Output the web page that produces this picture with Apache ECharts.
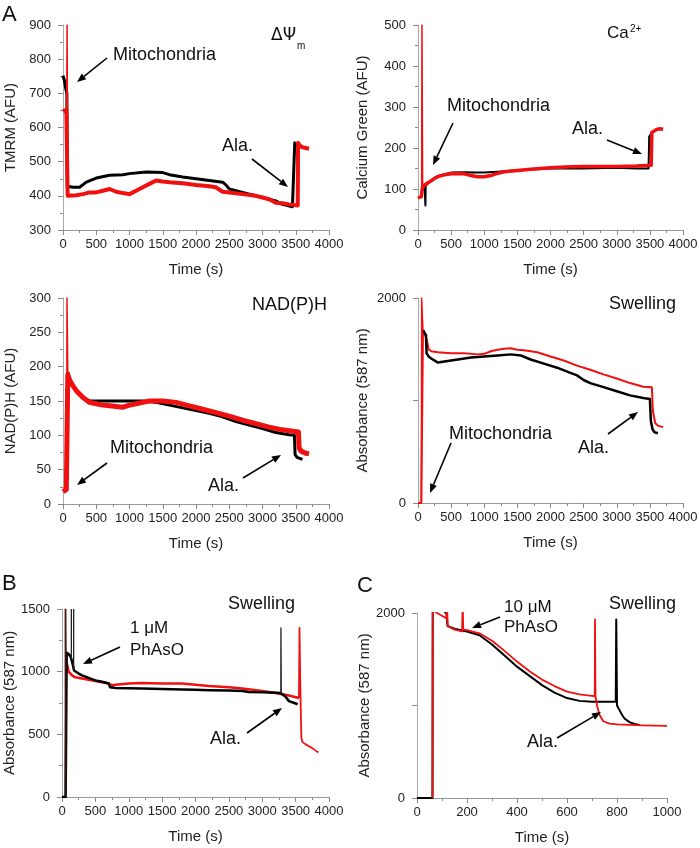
<!DOCTYPE html>
<html><head><meta charset="utf-8">
<script src="https://cdn.jsdelivr.net/npm/echarts@6/dist/echarts.min.js"></script>
<style>html,body{margin:0;padding:0;background:#fff}#c{width:700px;height:848px}</style>
</head><body><div id="c"></div>
<script>
// ---------- Panel A1: TMRM ----------
const tmrmBlackT = [0, 20, 40, 58, 64, 150, 250, 350, 500, 700, 900, 1000, 1250, 1500, 1600, 1800, 2000, 2200, 2400, 2450, 2500, 2700, 3000, 3200, 3300, 3450, 3480, 3485, 3510, 3540];
const tmrmBlackV = [752, 738, 715, 700, 428, 425, 425, 440, 452, 460, 462, 465, 470, 468, 462, 455, 450, 445, 440, 432, 420, 410, 395, 385, 375, 368, 365, 555, 548, 545];
const tmrmRedT = [0, 50, 70, 200, 300, 400, 500, 600, 700, 800, 900, 1000, 1100, 1200, 1300, 1400, 1500, 1600, 1800, 2000, 2200, 2300, 2400, 2500, 2700, 2900, 3000, 3100, 3200, 3300, 3400, 3530, 3535, 3560, 3600, 3650, 3700];
const tmrmRedV = [648, 652, 400, 402, 405, 410, 410, 415, 420, 412, 408, 405, 415, 425, 435, 445, 442, 440, 437, 432, 428, 425, 412, 410, 405, 400, 395, 390, 380, 378, 375, 372, 555, 548, 542, 540, 538];
const tmrmSpikeT = [55, 62, 66, 70];
const tmrmSpikeV = [650, 900, 900, 400];

// ---------- Panel A2: Calcium Green ----------
const caBlackT = [0, 50, 58, 100, 110, 112, 116, 135, 200, 300, 500, 700, 900, 1000, 1200, 1500, 2000, 2500, 3000, 3300, 3480, 3490, 3520, 3550];
const caBlackV = [80, 80, 100, 105, 105, 60, 108, 112, 122, 132, 140, 141, 140, 140, 142, 146, 150, 150, 152, 150, 150, 228, 235, 240];
const caRedT = [0, 50, 70, 100, 150, 200, 250, 300, 400, 500, 600, 700, 800, 900, 1000, 1100, 1200, 1300, 1500, 1700, 2000, 2300, 2500, 2800, 3000, 3300, 3520, 3530, 3550, 3600, 3650, 3700];
const caRedV = [78, 82, 105, 110, 115, 120, 126, 130, 135, 137, 138, 137, 133, 130, 130, 133, 138, 142, 145, 148, 152, 154, 155, 155, 155, 156, 158, 238, 242, 245, 247, 246];
const caSpikeT = [55, 60, 65, 70];
const caSpikeV = [80, 500, 500, 105];

// ---------- Panel A3: NAD(P)H ----------
const nadBlackT = [72, 100, 200, 300, 400, 500, 700, 900, 1000, 1200, 1400, 1600, 1800, 2000, 2200, 2400, 2600, 2800, 3000, 3200, 3400, 3480, 3490, 3520, 3550, 3600];
const nadBlackV = [192, 182, 165, 155, 150, 150, 150, 150, 150, 150, 148, 144, 140, 136, 132, 127, 120, 115, 110, 104, 101, 100, 72, 68, 66, 65];
const nadRedT = [0, 50, 72, 100, 150, 200, 300, 400, 500, 600, 700, 800, 900, 1000, 1100, 1200, 1300, 1500, 1700, 1900, 2100, 2300, 2500, 2700, 2900, 3100, 3300, 3540, 3550, 3580, 3600, 3650, 3700];
const nadRedV = [18, 21, 188, 180, 172, 165, 155, 148, 146, 144, 143, 142, 141, 144, 146, 148, 150, 150, 148, 143, 138, 133, 128, 122, 117, 112, 108, 105, 82, 77, 75, 74, 73];
const nadSpikeT = [55, 60, 65, 72];
const nadSpikeV = [20, 300, 300, 190];

// ---------- Panel A4: Swelling ----------
const absBlackT = [75, 100, 120, 130, 160, 200, 300, 400, 500, 600, 700, 800, 1000, 1200, 1400, 1550, 1700, 1900, 2100, 2300, 2400, 2500, 2600, 2800, 3000, 3200, 3400, 3500, 3515, 3540, 3570, 3620];
const absBlackV = [1690, 1660, 1640, 1460, 1430, 1410, 1370, 1380, 1390, 1400, 1410, 1420, 1430, 1440, 1450, 1440, 1400, 1360, 1320, 1270, 1245, 1200, 1170, 1130, 1090, 1050, 1025, 1015, 800, 720, 690, 680];
const absRedT = [0, 50, 75, 100, 130, 160, 200, 300, 500, 700, 900, 1000, 1100, 1200, 1300, 1400, 1500, 1600, 1800, 2000, 2200, 2400, 2600, 2800, 3000, 3200, 3400, 3530, 3545, 3580, 3620, 3700];
const absRedV = [0, 0, 1680, 1650, 1600, 1500, 1480, 1470, 1460, 1460, 1450, 1455, 1480, 1495, 1505, 1510, 1495, 1490, 1470, 1430, 1390, 1340, 1300, 1255, 1215, 1170, 1135, 1130, 900, 780, 755, 740];
const absSpikeT = [50, 55, 60, 75];
const absSpikeV = [0, 2000, 2000, 1680];

// ---------- Panel B: Swelling, 1 µM PhAsO ----------
const bBlackT = [0, 55, 70, 100, 130, 160, 180, 200, 250, 300, 400, 500, 600, 700, 720, 800, 1000, 1200, 1500, 1800, 2000, 2200, 2500, 2700, 2800, 3000, 3200, 3275, 3290, 3350, 3400, 3470, 3530];
const bBlackV = [0, 0, 1150, 1140, 1120, 1060, 1010, 1000, 985, 970, 950, 930, 920, 905, 875, 870, 868, 865, 862, 858, 855, 852, 850, 845, 838, 835, 832, 830, 825, 800, 765, 752, 740];
const bBlackSpikeT = [57, 57, 57, 140, 140, 140, 175, 175, 175, 3278, 3280, 3285];
const bBlackSpikeV = [0, 1500, null, 1100, 1500, null, 1010, 1500, null, 830, 1350, 830];
const bRedT = [60, 80, 100, 150, 200, 300, 400, 500, 600, 700, 750, 800, 1000, 1200, 1500, 1800, 2000, 2200, 2500, 2700, 3000, 3200, 3300, 3400, 3550];
const bRedV = [1080, 1050, 1000, 970, 955, 945, 935, 925, 915, 905, 890, 895, 905, 910, 905, 905, 895, 885, 875, 865, 845, 830, 820, 810, 790];
const bRedSpikeT = [48, 48, 52, 60];
const bRedSpikeV = [0, 1500, 1500, 1080];
const bRedTailT = [3550, 3555, 3558, 3570, 3585, 3600, 3650, 3700, 3750, 3800, 3840];
const bRedTailV = [790, 790, 1350, 900, 480, 440, 420, 405, 390, 370, 355];

// ---------- Panel C: Swelling, 10 µM PhAsO ----------
const cBlackT = [0, 62, 63, 75, 90, 100, 110, 118, 122, 130, 150, 180, 200, 250, 300, 350, 400, 450, 500, 550, 600, 650, 700, 750, 795, 797, 800, 810, 820, 830, 850, 870, 890];
const cBlackV = [0, 0, 2090, 2100, 2070, 2050, 2020, 1990, 1860, 1840, 1830, 1810, 1800, 1760, 1660, 1540, 1420, 1320, 1220, 1140, 1080, 1050, 1040, 1040, 1040, 1930, 1000, 950, 900, 860, 820, 800, 790];
const cRedT = [62, 63, 70, 80, 100, 118, 120, 121, 123, 130, 150, 180, 182, 183, 185, 200, 250, 300, 350, 400, 450, 500, 550, 600, 650, 700, 711, 712, 714, 720, 730, 745, 770, 800, 900, 1000];
const cRedV = [0, 2050, 2020, 2000, 1970, 1940, 2100, 2100, 1860, 1840, 1820, 1800, 1800, 2100, 1820, 1815, 1780, 1700, 1590, 1475, 1370, 1280, 1210, 1150, 1120, 1105, 1100, 1930, 1100, 1000, 900, 830, 805, 795, 785, 780];

// ---------- Axes ticks ----------
const timeTicksLong = [0, 4000, 500];
const timeTicksShort = [0, 1000, 200];

const FONT = '"Liberation Sans", Arial, Helvetica, sans-serif';
const RED = '#f01010';
const BLACK = '#000000';

function zip(t, v) { return t.map((x, i) => [x, v[i] == null ? '-' : v[i]]); }

const grids = [
  {left: 63, top: 25, width: 266, height: 205},
  {left: 418, top: 25, width: 265, height: 205},
  {left: 63, top: 298, width: 266, height: 206},
  {left: 418, top: 298, width: 265, height: 205},
  {left: 62, top: 609, width: 267, height: 188},
  {left: 417, top: 613, width: 250, height: 185}
].map(g => Object.assign({outerBoundsMode: 'none', containLabel: false}, g));

function xAx(gi, ticks) {
  return {
    type: 'value', gridIndex: gi, min: ticks[0], max: ticks[1], interval: ticks[2],
    name: 'Time (s)', nameLocation: 'middle', nameGap: 32,
    nameTextStyle: {fontSize: 15, color: '#222', fontFamily: FONT},
    axisLine: {show: true, onZero: false, lineStyle: {color: '#999', width: 1}},
    axisTick: {show: true, length: 5, lineStyle: {color: '#888'}},
    minorTick: {show: true, splitNumber: 2, length: 3, lineStyle: {color: '#888'}},
    axisLabel: {fontSize: 13, color: '#222', fontFamily: FONT, margin: 8, hideOverlap: false,
      showMaxLabel: true, showMinLabel: true, formatter: v => String(v)},
    splitLine: {show: false}, minorSplitLine: {show: false}
  };
}
function yAx(gi, name, min, max, interval, gap, minor, hideMid) {
  return {
    type: 'value', gridIndex: gi, min: min, max: max, interval: interval,
    name: name, nameLocation: 'middle', nameGap: gap,
    nameTextStyle: {fontSize: 15, color: '#222', fontFamily: FONT},
    axisLine: {show: true, onZero: false, lineStyle: {color: '#aaa', width: 1}},
    axisTick: {show: true, length: 5, lineStyle: {color: '#888'}},
    minorTick: {show: minor, splitNumber: 2, length: 3, lineStyle: {color: '#888'}},
    axisLabel: {fontSize: 13, color: '#222', fontFamily: FONT, margin: 12, hideOverlap: false,
      formatter: hideMid ? (v => (v === min || v === max) ? String(v) : '') : (v => String(v))},
    splitLine: {show: false}, minorSplitLine: {show: false}
  };
}

const xAxes = [0, 1, 2, 3, 4].map(i => xAx(i, timeTicksLong)).concat([xAx(5, timeTicksShort)]);
const yAxes = [
  yAx(0, 'TMRM (AFU)', 300, 900, 100, 45, true, false),
  yAx(1, 'Calcium Green (AFU)', 0, 500, 100, 48, true, false),
  yAx(2, 'NAD(P)H (AFU)', 0, 300, 50, 45, true, false),
  yAx(3, 'Absorbance (587 nm)', 0, 2000, 1000, 48, false, true),
  yAx(4, 'Absorbance (587 nm)', 0, 1500, 500, 44, true, false),
  yAx(5, 'Absorbance (587 nm)', 0, 2000, 1000, 42, false, true)
];

function ser(gi, t, v, color, w, z) {
  return {type: 'line', xAxisIndex: gi, yAxisIndex: gi, data: zip(t, v), showSymbol: false,
    symbol: 'none', connectNulls: false, animation: false, silent: true, z: z || 2,
    lineStyle: {color: color, width: w, join: 'round'}};
}

const series = [
  ser(0, tmrmBlackT, tmrmBlackV, BLACK, 3, 2),
  ser(0, tmrmRedT, tmrmRedV, RED, 4, 3),
  ser(0, tmrmSpikeT, tmrmSpikeV, RED, 1.5, 3),
  ser(1, caBlackT, caBlackV, BLACK, 2, 2),
  ser(1, caRedT, caRedV, RED, 3.5, 3),
  ser(1, caSpikeT, caSpikeV, RED, 1.5, 3),
  ser(2, nadBlackT, nadBlackV, BLACK, 3, 2),
  ser(2, nadRedT, nadRedV, RED, 5, 3),
  ser(2, nadSpikeT, nadSpikeV, RED, 1.5, 3),
  ser(3, absRedT, absRedV, RED, 2, 2),
  ser(3, absBlackT, absBlackV, BLACK, 2.5, 3),
  ser(3, absSpikeT, absSpikeV, RED, 1.5, 3),
  ser(4, bRedT, bRedV, RED, 2.5, 2),
  ser(4, bRedSpikeT, bRedSpikeV, '#a01010', 1.3, 3),
  ser(4, bRedTailT, bRedTailV, RED, 1.8, 2),
  ser(4, bBlackT, bBlackV, BLACK, 2.5, 3),
  ser(4, bBlackSpikeT, bBlackSpikeV, '#222', 1.3, 3),
  ser(5, cRedT, cRedV, RED, 1.8, 3),
  ser(5, cBlackT, cBlackV, BLACK, 2, 2)
];

function txt(x, y, s, size, fam) {
  return {type: 'text', silent: true, z: 10,
    style: {text: s, x: x, y: y, fill: '#111', font: size + 'px ' + (fam || FONT), align: 'left', verticalAlign: 'middle'}};
}
function arrow(x1, y1, x2, y2) {
  const ang = Math.atan2(y2 - y1, x2 - x1);
  const L = 9, W = 3.6;
  const bx = x2 - L * Math.cos(ang), by = y2 - L * Math.sin(ang);
  const px = -Math.sin(ang) * W, py = Math.cos(ang) * W;
  return [
    {type: 'line', silent: true, z: 10, shape: {x1: x1, y1: y1, x2: bx, y2: by}, style: {stroke: '#000', lineWidth: 1.6}},
    {type: 'polygon', silent: true, z: 10, shape: {points: [[x2, y2], [bx + px, by + py], [bx - px, by - py]]}, style: {fill: '#000'}}
  ];
}

const graphics = [
  txt(2, 15, 'A', 22), txt(2, 584, 'B', 22), txt(357, 586, 'C', 22),
  // A1
  txt(271, 36, 'ΔΨ', 17, '"DejaVu Sans", sans-serif'), txt(297, 46, 'm', 10),
  txt(113, 55, 'Mitochondria', 18), txt(222, 146, 'Ala.', 18),
  // A2
  txt(607, 33, 'Ca', 17), txt(630, 29, '2+', 10),
  txt(447, 106, 'Mitochondria', 18), txt(572, 129, 'Ala.', 18),
  // A3
  txt(252, 305, 'NAD(P)H', 18), txt(110, 448, 'Mitochondria', 18), txt(208, 486, 'Ala.', 18),
  // A4
  txt(609, 304, 'Swelling', 18), txt(449, 434, 'Mitochondria', 18), txt(578, 448, 'Ala.', 18),
  // B
  txt(228, 604, 'Swelling', 18), txt(130, 628, '1 μM', 17), txt(130, 650, 'PhAsO', 17), txt(210, 739, 'Ala.', 18),
  // C
  txt(609, 604, 'Swelling', 18), txt(504, 607, '10 μM', 17), txt(504, 627, 'PhAsO', 17), txt(527, 742, 'Ala.', 18)
].concat(
  arrow(107, 58, 77, 82), arrow(252, 159, 288, 187),
  arrow(453, 123, 433, 165), arrow(607, 140, 642, 154),
  arrow(107, 463, 77, 485), arrow(243, 478, 281, 455),
  arrow(451, 443, 430, 493), arrow(608, 434, 638, 412),
  arrow(120, 647, 83, 664), arrow(247, 733, 282, 708),
  arrow(500, 617, 472, 628), arrow(557, 738, 601, 712)
);

const chart = echarts.init(document.getElementById('c'), null, {renderer: 'canvas', width: 700, height: 848});
chart.setOption({
  backgroundColor: '#fff',
  animation: false,
  grid: grids,
  xAxis: xAxes,
  yAxis: yAxes,
  series: series,
  graphic: graphics
});
</script></body></html>
